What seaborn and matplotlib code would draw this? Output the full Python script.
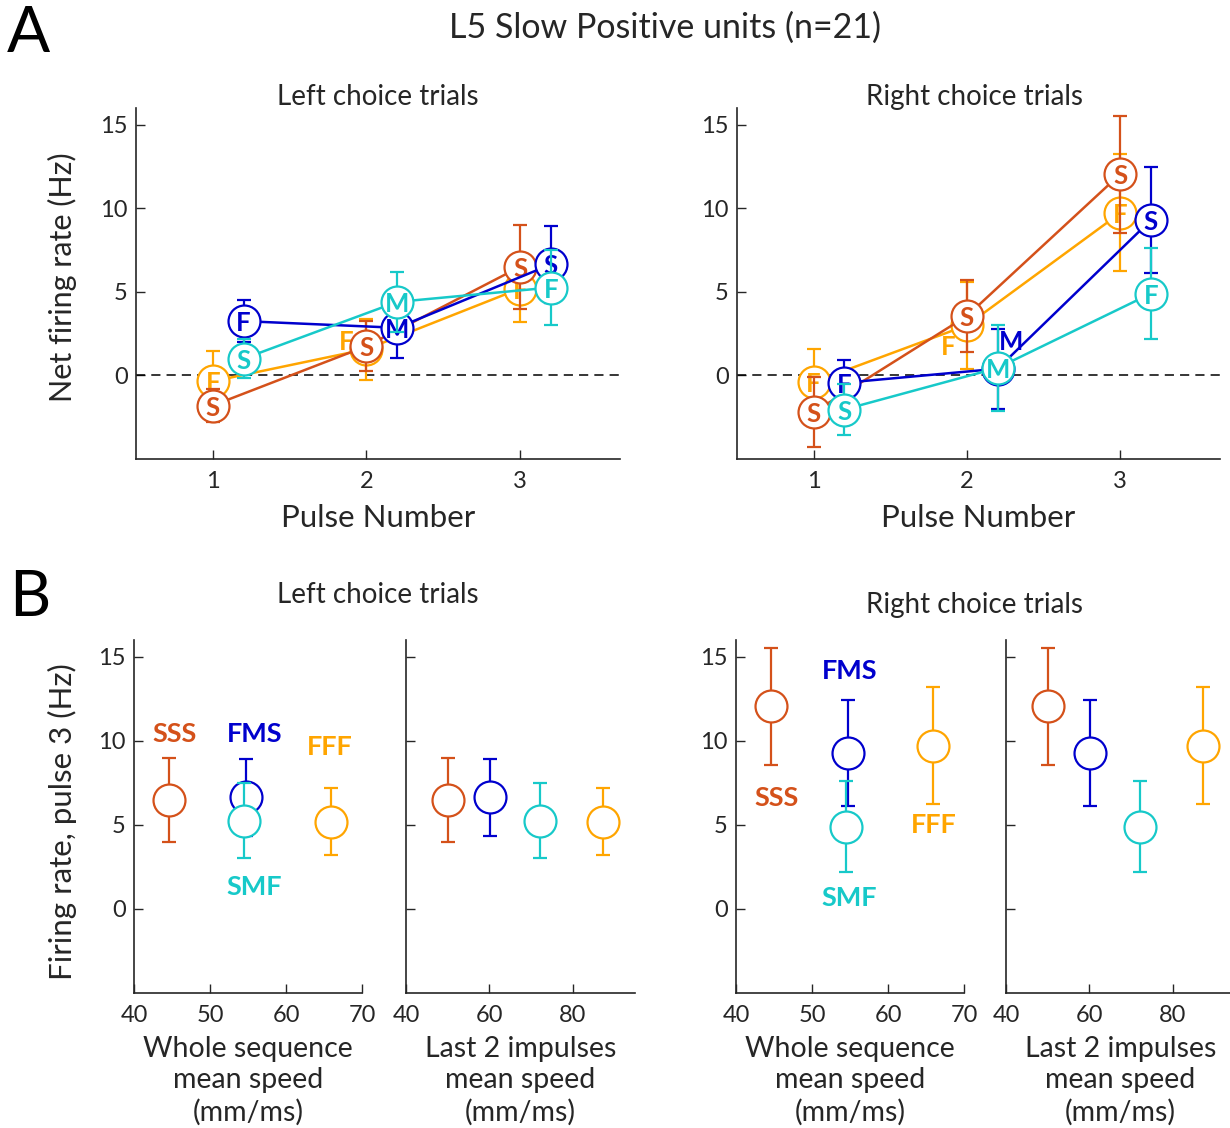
import matplotlib
matplotlib.use("Agg")
import matplotlib.pyplot as plt
import seaborn as sns
import pandas as pd

sns.set_theme(style="ticks")
plt.rcParams['font.family'] = ['Lato', 'DejaVu Sans']

# ---------------- data ----------------
pulses = [1, 2, 3]
series_order = ["FFF", "SSS", "FMS", "SMF"]          # drawing order
series_letters = {"SSS": ["S", "S", "S"], "FFF": ["F", "F", "F"],
                  "FMS": ["F", "M", "S"], "SMF": ["S", "M", "F"]}
series_shift = {"SSS": 0.0, "FFF": 0.0, "FMS": 0.2, "SMF": 0.2}
series_colors = {"SSS": "#D4511A", "FFF": "#FFA500",
                 "FMS": "#0000CD", "SMF": "#17C9C9"}

# Left choice trials: mean net firing rate and error per pulse
left_sss = [-1.8, 1.75, 6.5]
left_sss_err = [1.0, 1.5, 2.5]
left_fff = [-0.35, 1.57, 5.2]
left_fff_err = [1.8, 1.83, 2.0]
left_fms = [3.25, 2.85, 6.64]
left_fms_err = [1.25, 1.8, 2.3]
left_smf = [1.0, 4.4, 5.26]
left_smf_err = [1.15, 1.8, 2.25]

# Right choice trials
right_sss = [-2.2, 3.56, 12.05]
right_sss_err = [2.1, 2.14, 3.5]
right_fff = [-0.4, 3.0, 9.72]
right_fff_err = [2.0, 2.6, 3.5]
right_fms = [-0.44, 0.4, 9.3]
right_fms_err = [1.34, 2.4, 3.15]
right_smf = [-2.04, 0.45, 4.9]
right_smf_err = [1.5, 2.55, 2.7]

left_means = {"SSS": left_sss, "FFF": left_fff, "FMS": left_fms, "SMF": left_smf}
left_errs = {"SSS": left_sss_err, "FFF": left_fff_err, "FMS": left_fms_err, "SMF": left_smf_err}
right_means = {"SSS": right_sss, "FFF": right_fff, "FMS": right_fms, "SMF": right_smf}
right_errs = {"SSS": right_sss_err, "FFF": right_fff_err, "FMS": right_fms_err, "SMF": right_smf_err}

# mean speeds (mm/ms)
whole_speed = {"SSS": 44.6, "FMS": 54.7, "SMF": 54.5, "FFF": 65.9}
last2_speed = {"SSS": 50.2, "FMS": 60.2, "SMF": 72.3, "FFF": 87.3}

# displaced letters (panel, series, pulse index, x, y)
moved_letters = [("left", "FFF", 1, 1.87, 2.1),
                 ("right", "FFF", 1, 1.88, 1.84),
                 ("right", "FMS", 1, 2.29, 2.1)]

# sequence name labels in panel B (x, y)
left_names = {"SSS": (45.4, 10.5), "FMS": (55.9, 10.5), "FFF": (65.8, 9.74), "SMF": (55.8, 1.4)}
right_names = {"SSS": (45.3, 6.7), "FMS": (55.0, 14.26), "FFF": (66.0, 5.14), "SMF": (54.9, 0.76)}

# ---------------- style ----------------
TXT = "#262626"
W, H = 1230, 1128
fig = plt.figure(figsize=(W / 100, H / 100), dpi=100)

def px_axes(left, right, top, bottom):
    return fig.add_axes([left / W, 1 - bottom / H, (right - left) / W, (bottom - top) / H])

def style_axes(ax, show_ylabels=True):
    for s in ["top", "right"]:
        ax.spines[s].set_visible(False)
    for s in ["left", "bottom"]:
        ax.spines[s].set_color(TXT)
        ax.spines[s].set_linewidth(1.2)
    ax.tick_params(direction="in", length=6.5, width=1.0, color=TXT,
                   labelcolor=TXT, labelsize=17)
    ax.tick_params(axis="y", pad=6)
    ax.tick_params(axis="x", pad=9)
    ax.set_ylim(-5, 16)
    ax.set_yticks([0, 5, 10, 15])
    if not show_ylabels:
        ax.set_yticklabels([])
    ax.set_xlabel("")
    ax.set_ylabel("")

MS = 23
LW = 1.6

def draw_top(ax, means, errs, side):
    for i, name in enumerate(series_order):
        c = series_colors[name]
        xs = [p + series_shift[name] for p in pulses]
        z = 3 + i
        ax.errorbar(xs, means[name], yerr=errs[name], fmt="none", ecolor=c,
                    elinewidth=LW, capsize=5, capthick=LW, zorder=z)
        df = pd.DataFrame({"x": xs, "y": means[name]})
        sns.lineplot(data=df, x="x", y="y", ax=ax, color=c, lw=1.8,
                     marker="o", markersize=MS, markerfacecolor="white",
                     markeredgecolor=c, markeredgewidth=LW, zorder=z + 0.3)
        for k, (x, y) in enumerate(zip(xs, means[name])):
            tx, ty = x, y
            for (pside, pname, pk, mx, my) in moved_letters:
                if pside == side and pname == name and pk == k:
                    tx, ty = mx, my
            ax.text(tx, ty, series_letters[name][k], color=c, fontsize=18.5,
                    fontweight="bold", ha="center", va="center_baseline", zorder=z + 0.5)
    ax.axhline(0, color="black", lw=1.1, dashes=(6, 4), zorder=1)
    ax.set_xlim(0.5, 3.65)
    ax.set_xticks(pulses)
    style_axes(ax)
    ax.set_xlabel("Pulse Number", fontsize=22.5, color=TXT, labelpad=8)

def draw_bottom(ax, means, errs, speed, xlim, xticks, names=None, show_ylabels=True):
    for i, name in enumerate(series_order):
        c = series_colors[name]
        z = 3 + i
        y = means[name][2]
        e = errs[name][2]
        ax.errorbar([speed[name]], [y], yerr=[e], fmt="none", ecolor=c,
                    elinewidth=LW, capsize=5, capthick=LW, zorder=z)
        df = pd.DataFrame({"x": [speed[name]], "y": [y]})
        sns.scatterplot(data=df, x="x", y="y", ax=ax, s=MS ** 2, color="white",
                        edgecolor=c, linewidth=LW, zorder=z + 0.3, legend=False)
        if names is not None:
            nx, ny = names[name]
            ax.text(nx, ny, name, color=c, fontsize=19.5, fontweight="bold",
                    ha="center", va="center_baseline", zorder=10)
    ax.set_xlim(*xlim)
    ax.set_xticks(xticks)
    style_axes(ax, show_ylabels)

# ---------------- panel A ----------------
axA1 = px_axes(136, 620, 108, 459)
axA2 = px_axes(737, 1220, 108, 459)
draw_top(axA1, left_means, left_errs, "left")
draw_top(axA2, right_means, right_errs, "right")

# ---------------- panel B ----------------
axB1 = px_axes(134, 362, 640, 993)
axB2 = px_axes(406, 635, 640, 993)
axB3 = px_axes(736, 964, 640, 993)
axB4 = px_axes(1006, 1235, 640, 993)
draw_bottom(axB1, left_means, left_errs, whole_speed, (40, 70), [40, 50, 60, 70], left_names)
draw_bottom(axB2, left_means, left_errs, last2_speed, (40, 95), [40, 60, 80], None, False)
draw_bottom(axB3, right_means, right_errs, whole_speed, (40, 70), [40, 50, 60, 70], right_names)
draw_bottom(axB4, right_means, right_errs, last2_speed, (40, 95), [40, 60, 80], None, False)

for ax in (axB1, axB3):
    ax.set_xlabel("Whole sequence\nmean speed\n(mm/ms)", fontsize=20.5, color=TXT,
                  labelpad=7, linespacing=1.25)
for ax in (axB2, axB4):
    ax.set_xlabel("Last 2 impulses\nmean speed\n(mm/ms)", fontsize=20.5, color=TXT,
                  labelpad=7, linespacing=1.25)

# ---------------- figure texts ----------------
fig.text(28 / W, 1 - 34 / H, "A", fontsize=46, color="black", ha="center", va="center")
fig.text(30 / W, 1 - 598 / H, "B", fontsize=46, color="black", ha="center", va="center")
fig.text(665 / W, 1 - 28 / H, "L5 Slow Positive units (n=21)", fontsize=24.5, color=TXT,
         ha="center", va="center")
fig.text(378 / W, 1 - 97 / H, "Left choice trials", fontsize=20, color=TXT, ha="center", va="center")
fig.text(975 / W, 1 - 97 / H, "Right choice trials", fontsize=20, color=TXT, ha="center", va="center")
fig.text(378 / W, 1 - 595 / H, "Left choice trials", fontsize=20, color=TXT, ha="center", va="center")
fig.text(975 / W, 1 - 605 / H, "Right choice trials", fontsize=20, color=TXT, ha="center", va="center")
fig.text(62 / W, 1 - 277 / H, "Net firing rate (Hz)", fontsize=22, color=TXT,
         rotation=90, ha="center", va="center")
fig.text(62 / W, 1 - 822 / H, "Firing rate, pulse 3 (Hz)", fontsize=22.5, color=TXT,
         rotation=90, ha="center", va="center")

fig.savefig("out.png", dpi=100)
